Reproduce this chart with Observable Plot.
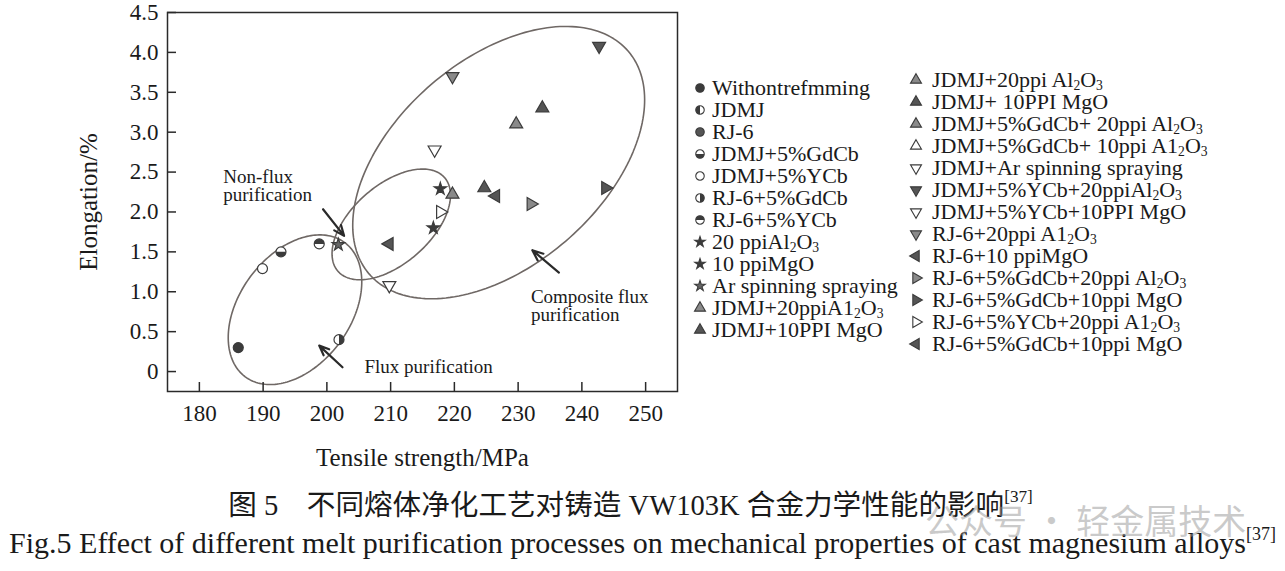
<!DOCTYPE html>
<html><head><meta charset="utf-8">
<script src="https://cdn.jsdelivr.net/npm/d3@7"></script>
<script src="https://cdn.jsdelivr.net/npm/@observablehq/plot@0.6"></script>
<style>
body{margin:0;background:#fff;}
#wrap{position:relative;width:1285px;height:571px;overflow:hidden;background:#fff;font-family:"Liberation Serif","Times New Roman",serif;color:#1a1a1a;}
.leg{position:absolute;font-size:22px;line-height:22px;white-space:nowrap;}
.legm{position:absolute;overflow:visible;}
sub{font-size:0.62em;vertical-align:baseline;position:relative;top:0.22em;line-height:0;}
.cap{position:absolute;white-space:nowrap;text-align:center;}
.cap sup{font-size:0.6em;vertical-align:baseline;position:relative;top:-0.75em;line-height:0;}
#wm{position:absolute;font-family:"Noto Sans CJK SC",sans-serif;font-size:34px;line-height:40px;color:rgba(150,150,150,0.5);white-space:nowrap;}
</style></head>
<body><div id="wrap"><div id="chart"></div><div id="legend"></div>
<div id="cap1" class="cap"></div><div id="cap2" class="cap"></div><div id="wm"></div></div>
<script>
// ---------- data ----------
const xTicks = [180, 190, 200, 210, 220, 230, 240, 250];
const yTicks = [0, 0.5, 1.0, 1.5, 2.0, 2.5, 3.0, 3.5, 4.0, 4.5];
const yTickLabels = ["0", "0.5", "1.0", "1.5", "2.0", "2.5", "3.0", "3.5", "4.0", "4.5"];
const xTitle = "Tensile strength/MPa";
const yTitle = "Elongation/%";

const seriesNames = [
  "Withontrefmming", "JDMJ", "RJ-6", "JDMJ+5%GdCb", "JDMJ+5%YCb", "RJ-6+5%GdCb", "RJ-6+5%YCb",
  "20 ppiAl₂O₃", "10 ppiMgO", "Ar spinning spraying", "JDMJ+20ppiA1₂O₃", "JDMJ+10PPI MgO",
  "JDMJ+20ppi Al₂O₃", "JDMJ+ 10PPI MgO", "JDMJ+5%GdCb+ 20ppi Al₂O₃", "JDMJ+5%GdCb+ 10ppi A1₂O₃",
  "JDMJ+Ar spinning spraying", "JDMJ+5%YCb+20ppiAl₂O₃", "JDMJ+5%YCb+10PPI MgO", "RJ-6+20ppi A1₂O₃",
  "RJ-6+10 ppiMgO", "RJ-6+5%GdCb+20ppi Al₂O₃", "RJ-6+5%GdCb+10ppi MgO", "RJ-6+5%YCb+20ppi A1₂O₃",
  "RJ-6+5%GdCb+10ppi MgO"
];

// observed points (series index, tensile strength, elongation)
const pointSeries = [0, 4, 3, 6, 5, 7, 8, 9, 10, 11, 12, 13, 16, 17, 18, 19, 20, 24, 21, 22, 23];
const pointX = [186.1, 189.9, 192.8, 198.8, 201.9, 217.8, 216.7, 201.8, 219.7, 224.7, 229.7, 233.8, 216.9, 242.7, 209.8, 219.7, 226.5, 209.8, 232.0, 243.7, 217.8];
const pointY = [0.30, 1.29, 1.50, 1.60, 0.40, 2.29, 1.80, 1.59, 2.22, 2.30, 3.10, 3.30, 2.78, 4.08, 1.08, 3.70, 2.20, 1.60, 2.10, 2.30, 2.00];

// grouping ellipses: centre and two conjugate half-axis vectors (data units)
const ellipseCX = [195.0, 210.1, 226.95];
const ellipseCY = [0.775, 1.844, 2.619];
const ellipseU = [[7.80, 0.841], [8.36, 0.587], [20.33, 1.395]];
const ellipseV = [[-6.99, 0.415], [-4.05, 0.370], [-10.53, 0.983]];

// annotation arrows and labels
const arrowX1 = [199.4, 202.45, 236.4], arrowY1 = [2.034, 0.054, 1.241];
const arrowX2 = [202.7, 198.8, 232.23], arrowY2 = [1.70, 0.325, 1.521];
const annoText = ["Non-flux\npurification", "Flux purification", "Composite flux\npurification"];
const annoX = [183.75, 205.9, 232.0];
const annoY = [2.53, 0.144, 1.02];

const caption1 = "图 5　不同熔体净化工艺对铸造 VW103K 合金力学性能的影响";
const caption2 = "Fig.5 Effect of different melt purification processes on mechanical properties of cast magnesium alloys";
const captionRef = "[37]";
const watermark = "公众号 · 轻金属技术";

// ---------- marker styles (per series) ----------
const DARK = "#3b3b3b", GRAY = "#8a8a8a";
const mShape = ["circle","circle","circle","circle","circle","circle","circle",
  "star","star","star","tri","tri","tri","tri","tri","tri","tri","tri","tri","tri","tri","tri","tri","tri","tri"];
const mRot = [0,0,0,0,0,0,0, 0,0,0, 0,0,0,0,0,0, 180,180,180,180, -90,90,90,90,-90];
const mFill = [DARK,"white","#555","white","white","white","white",
  DARK,DARK,"#666", GRAY,"#555",GRAY,"#555",GRAY,"white", "white","#555","white",GRAY, "#555",GRAY,"#555","white","#555"];
const mHalf = [null,90,null,0,null,270,180, null,null,null, null,null,null,null,null,null, null,null,null,null, null,null,null,null,null];

const halfCircle = {draw(ctx, size){ const r = Math.sqrt(size / Math.PI); ctx.moveTo(r, 0); ctx.arc(0, 0, r, 0, Math.PI); ctx.closePath(); }};
const symOf = s => mShape[s] === "circle" ? d3.symbolCircle : mShape[s] === "star" ? d3.symbolStar : d3.symbolTriangle;
const rOf = s => mShape[s] === "circle" ? 5 : mShape[s] === "star" ? 3.9 : 4.8;

// ---------- layout ----------
const W = 1285, H = 480, ML = 167, MR = 608, MT = 12, MB = 89, TICK = 9;
const FW = W - ML - MR, FH = H - MT - MB;

const pts = pointX.map((x, i) => ({x, y: pointY[i], s: pointSeries[i]}));
const halfPts = pts.filter(d => mHalf[d.s] !== null);
const ell = [];
ellipseCX.forEach((cx, k) => {
  for (let j = 0; j <= 200; j++) {
    const t = j / 200 * 2 * Math.PI;
    ell.push({k,
      x: cx + ellipseU[k][0] * Math.cos(t) + ellipseV[k][0] * Math.sin(t),
      y: ellipseCY[k] + ellipseU[k][1] * Math.cos(t) + ellipseV[k][1] * Math.sin(t)});
  }
});
const arrows = arrowX1.map((x1, i) => ({x1, y1: arrowY1[i], x2: arrowX2[i], y2: arrowY2[i]}));
const annos = annoText.map((t, i) => ({t, x: annoX[i], y: annoY[i]}));

const chart = Plot.plot({
  width: W, height: H,
  marginLeft: ML, marginRight: MR, marginTop: MT, marginBottom: MB,
  x: {domain: [175, 255]},
  y: {domain: [-0.25, 4.5]},
  r: {type: "identity"},
  style: {fontFamily: "Liberation Serif, Times New Roman, serif", background: "white", color: "#1a1a1a"},
  marks: [
    Plot.line(ell, {x: "x", y: "y", z: "k", stroke: "#6f6865", strokeWidth: 1.6}),
    Plot.arrow(arrows, {x1: "x1", y1: "y1", x2: "x2", y2: "y2", stroke: "#2a2a2a", strokeWidth: 2.2, headLength: 11, headAngle: 45}),
    Plot.dot(pts, {x: "x", y: "y", symbol: d => symOf(d.s), rotate: d => mRot[d.s], r: d => rOf(d.s),
      fill: d => mFill[d.s], stroke: DARK, strokeWidth: 1.2}),
    Plot.dot(halfPts, {x: "x", y: "y", symbol: () => halfCircle, rotate: d => mHalf[d.s], r: 5, fill: DARK, stroke: "none"}),
    Plot.text(annos, {x: "x", y: "y", text: "t", textAnchor: "start", lineAnchor: "top", fontSize: 19, lineHeight: 0.95, fill: "#1a1a1a"}),
    Plot.frame({stroke: "#2a2a2a", strokeWidth: 1.5}),
    Plot.tickX(xTicks, {x: d => d, insetTop: FH - TICK, stroke: "#2a2a2a", strokeWidth: 1.5}),
    Plot.tickY(yTicks, {y: d => d, insetRight: FW - TICK, stroke: "#2a2a2a", strokeWidth: 1.5}),
    Plot.axisX(xTicks, {anchor: "bottom", tickSize: 0, tickPadding: 13, fontSize: 23, label: null, fill: "#1a1a1a"}),
    Plot.axisY(yTicks, {anchor: "left", tickSize: 0, tickPadding: 9, fontSize: 23, label: null, fill: "#1a1a1a",
      tickFormat: d => yTickLabels[yTicks.indexOf(d)]}),
    Plot.text([xTitle], {text: d => d, frameAnchor: "bottom", dy: 66, fontSize: 25, lineAnchor: "middle", textAnchor: "middle", fill: "#1a1a1a"}),
    Plot.text([yTitle], {text: d => d, frameAnchor: "left", dx: -79, rotate: -90, fontSize: 25, lineAnchor: "middle", textAnchor: "middle", fill: "#1a1a1a"})
  ]
});
document.getElementById("chart").appendChild(chart);

// ---------- legend ----------
const legend = document.getElementById("legend");
const fmt = s => s.replace(/₂/g, "<sub>2</sub>").replace(/₃/g, "<sub>3</sub>");
seriesNames.forEach((name, s) => {
  const col = s < 12 ? 0 : 1;
  const row = col ? s - 12 : s;
  const cy = (col ? 79.5 : 88) + row * 22;
  const mx = col ? 916 : 700, tx = col ? 932 : 712;
  const svg = d3.create("svg").attr("class", "legm").attr("width", 16).attr("height", 16)
    .style("left", (mx - 8) + "px").style("top", (cy - 8) + "px");
  const rr = rOf(s) * 0.85;
  svg.append("path").attr("d", d3.symbol(symOf(s), Math.PI * rr * rr)())
    .attr("transform", `translate(8,8) rotate(${mRot[s]})`)
    .attr("fill", mFill[s]).attr("stroke", DARK).attr("stroke-width", 1.1);
  if (mHalf[s] !== null) {
    svg.append("path").attr("d", d3.symbol(halfCircle, Math.PI * rr * rr)())
      .attr("transform", `translate(8,8) rotate(${mHalf[s]})`).attr("fill", DARK);
  }
  legend.appendChild(svg.node());
  const div = document.createElement("div");
  div.className = "leg";
  div.style.left = tx + "px";
  div.style.top = (cy - 11) + "px";
  div.innerHTML = fmt(name);
  legend.appendChild(div);
});

// ---------- captions ----------
const c1 = document.getElementById("cap1");
c1.style.cssText = "left:0;width:1261px;top:488px;font-size:28.6px;line-height:36px;font-family:'Liberation Serif','Noto Sans CJK SC',serif;";
c1.innerHTML = caption1 + "<sup>" + captionRef + "</sup>";
const c2 = document.getElementById("cap2");
c2.style.cssText = "left:0;width:1285px;top:525px;font-size:30px;line-height:36px;";
c2.innerHTML = caption2 + "<sup>" + captionRef + "</sup>";
const wm = document.getElementById("wm");
wm.style.left = "925px"; wm.style.top = "500px";
wm.textContent = watermark;
</script>
</body></html>
